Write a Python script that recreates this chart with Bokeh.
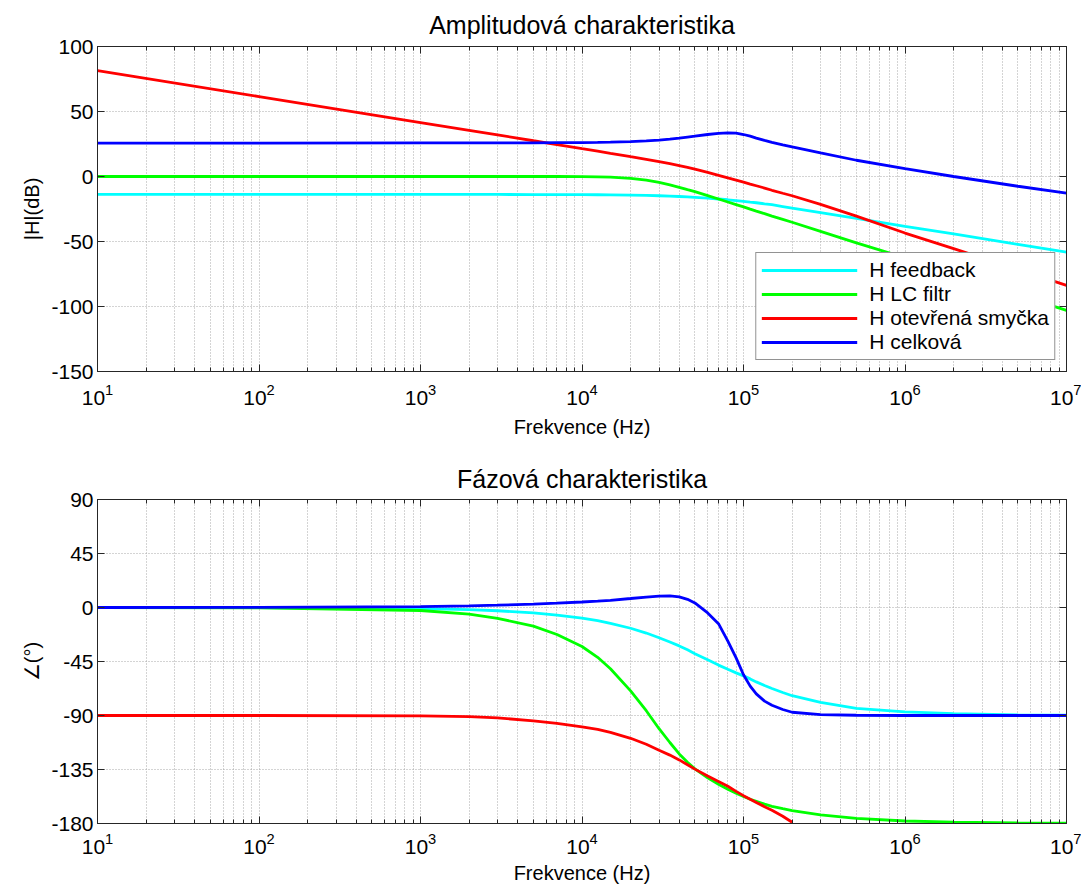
from bokeh.plotting import figure
from bokeh.models import (FixedTicker, LogAxis, LinearAxis, LogTickFormatter,
                          CustomJSTickFormatter, Legend, LegendItem, Range1d)
from bokeh.layouts import column
from bokeh.embed import file_html
from bokeh.resources import INLINE

# ---------------- data ----------------
freq = [10, 100, 1e3, 2e3, 3e3, 5e3, 7e3, 1e4, 1.25e4, 1.5e4,
        2e4, 2.5e4, 3e4, 3.5e4, 4e4, 4.5e4, 5e4, 6e4, 7e4, 8e4,
        9e4, 1e5, 1.1e5, 1.2e5, 1.35e5, 1.5e5, 1.75e5, 2e5, 3e5, 5e5,
        1e6, 2e6, 5e6, 1e7]

# magnitude |H| in dB
mag_feedback = [-13.8, -13.8, -13.8, -13.8, -13.8, -13.9, -13.9, -14.0, -14.05, -14.1,
                -14.3, -14.5, -14.8, -15.1, -15.4, -15.7, -16.0, -16.6, -17.3, -17.9,
                -18.5, -19.1, -19.7, -20.2, -21.0, -21.7, -23.1, -24.3, -27.8, -32.3,
                -38.3, -44.2, -52.2, -58.2]
mag_lc = [0.0, 0.0, 0.0, 0.0, 0.0, 0.0, 0.0, -0.1, -0.25, -0.5,
          -1.4, -2.8, -4.5, -6.4, -8.3, -10.1, -11.7, -14.7, -17.3, -19.6,
          -21.6, -23.4, -25.1, -26.6, -28.6, -30.5, -33.0, -35.2, -42.2, -51.0,
          -62.5, -75.0, -91.0, -103.0]
mag_open = [81.5, 61.5, 41.5, 35.5, 32.0, 27.5, 24.6, 21.5, 19.6, 17.8,
            15.2, 13.2, 11.5, 9.9, 8.4, 7.0, 5.6, 3.2, 0.9, -1.1,
            -2.8, -4.3, -5.8, -7.1, -8.9, -10.6, -12.9, -14.8, -21.4, -30.5,
            -43.5, -55.5, -71.5, -83.8]
mag_total = [25.7, 25.7, 25.8, 25.8, 25.8, 25.9, 26.0, 26.1, 26.2, 26.4,
             26.9, 27.4, 28.0, 28.7, 29.5, 30.3, 31.0, 32.3, 33.1, 33.6,
             33.3, 32.3, 31.0, 29.5, 27.8, 26.3, 24.4, 22.8, 18.1, 12.5,
             6.0, 0.0, -7.5, -12.8]

# phase in degrees
nan = float("nan")
ph_feedback = [0.0, -0.1, -0.9, -1.8, -2.7, -4.5, -6.4, -8.8, -11.0, -13.2,
               -17.3, -21.3, -25.2, -28.7, -32.0, -35.3, -38.5, -43.5, -48.0, -51.5,
               -54.5, -57.0, -59.5, -62.0, -65.0, -67.5, -70.8, -73.5, -79.0, -84.0,
               -87.0, -88.5, -89.4, -89.7]
ph_lc = [0.0, -0.3, -2.5, -5.5, -9.0, -15.5, -22.5, -32.5, -41.5, -51.0,
         -69.5, -86.0, -101.0, -112.5, -122.0, -129.0, -134.5, -142.0, -147.3, -151.5,
         -154.8, -157.5, -159.8, -161.5, -163.8, -165.7, -167.7, -169.3, -172.9, -175.7,
         -177.9, -178.9, -179.6, -179.8]
ph_open = [-90.0, -90.0, -90.3, -91.0, -92.0, -94.4, -96.5, -99.4, -101.5, -104.0,
           -109.0, -114.0, -119.0, -123.0, -127.0, -131.0, -134.7, -140.5, -145.0, -149.0,
           -153.2, -156.8, -159.8, -162.5, -166.0, -169.0, -174.0, -179.0, nan, nan,
           nan, nan, nan, nan]
ph_total = [0.0, 0.1, 0.7, 1.4, 1.9, 2.8, 3.6, 4.6, 5.3, 6.0,
            7.5, 8.7, 9.5, 9.7, 8.8, 6.8, 3.8, -4.5, -13.5, -28.0,
            -42.0, -56.0, -65.5, -72.0, -78.0, -81.5, -85.0, -87.3, -89.2, -89.8,
            -90.0, -90.0, -90.0, -90.0]

labels = ["H feedback", "H LC filtr", "H otevřená smyčka", "H celková"]
colors = ["#00FFFF", "#00FF00", "#FF0000", "#0000FF"]

x_major = [10, 100, 1e3, 1e4, 1e5, 1e6, 1e7]
x_minor = [m * 10 ** k for k in range(1, 7) for m in range(2, 10)]
mag_ticks = [-150, -100, -50, 0, 50, 100]
ph_ticks = [-180, -135, -90, -45, 0, 45, 90]

FONT = "Liberation Sans"
AXIS_COLOR = "#262626"
GRID_COLOR = "#a8a8a8"


def style_axis(ax, show_labels=True):
    ax.axis_line_color = AXIS_COLOR
    ax.major_tick_line_color = AXIS_COLOR
    ax.minor_tick_line_color = AXIS_COLOR
    ax.major_tick_in = 7
    ax.major_tick_out = 0
    ax.minor_tick_in = 4
    ax.minor_tick_out = 0
    ax.major_label_text_font = FONT
    ax.major_label_text_color = "black"
    ax.axis_label_text_font = FONT
    ax.axis_label_text_font_style = "normal"
    ax.axis_label_text_color = "black"
    if show_labels:
        ax.major_label_text_font_size = "21px"
        ax.axis_label_text_font_size = "20px"
    else:
        ax.formatter = CustomJSTickFormatter(code="return '';")
        ax.major_label_text_font_size = "1px"
        ax.major_label_text_alpha = 0
        ax.major_label_standoff = 0
        ax.axis_label_standoff = 0


def make_fig(title, ylabel, yr, yticks, ys, height, mbt, mbb, tstand,
             xl_stand, xa_stand, legend=False):
    p = figure(width=1081, height=height, x_axis_type="log",
               x_range=Range1d(10, 1e7), y_range=Range1d(*yr),
               output_backend="svg", toolbar_location=None,
               min_border_left=97, min_border_right=15,
               min_border_top=mbt, min_border_bottom=mbb,
               background_fill_color="white", border_fill_color="white")
    p.outline_line_color = AXIS_COLOR
    p.title.text = title
    p.title.text_font = FONT
    p.title.text_font_size = "25px"
    p.title.text_font_style = "normal"
    p.title.text_color = "black"
    p.title.align = "center"
    p.title.standoff = tstand

    xt = FixedTicker(ticks=x_major, minor_ticks=x_minor)
    yt = FixedTicker(ticks=yticks, minor_ticks=[])

    xa = p.xaxis[0]
    xa.ticker = xt
    xa.formatter = LogTickFormatter()
    xa.axis_label = "Frekvence (Hz)"
    style_axis(xa)
    xa.major_label_standoff = xl_stand
    xa.axis_label_standoff = xa_stand

    ya = p.yaxis[0]
    ya.ticker = yt
    ya.formatter = CustomJSTickFormatter(code="return tick.toFixed(0);")
    ya.axis_label = ylabel
    style_axis(ya)
    ya.major_label_standoff = 4
    ya.axis_label_standoff = 5
    ya.minor_tick_line_color = None

    top = LogAxis(ticker=FixedTicker(ticks=x_major, minor_ticks=x_minor))
    style_axis(top, show_labels=False)
    p.add_layout(top, "above")
    right = LinearAxis(ticker=FixedTicker(ticks=yticks, minor_ticks=[]))
    style_axis(right, show_labels=False)
    right.minor_tick_line_color = None
    p.add_layout(right, "right")

    p.xgrid.ticker = xt
    p.ygrid.ticker = yt
    for g in (p.xgrid[0], p.ygrid[0]):
        g.grid_line_color = GRID_COLOR
        g.grid_line_dash = "1 2"
        g.grid_line_width = 1
    p.xgrid[0].minor_grid_line_color = GRID_COLOR
    p.xgrid[0].minor_grid_line_dash = "1 2"
    p.xgrid[0].minor_grid_line_width = 1

    rends = []
    for yv, c in zip(ys, colors):
        r = p.line(freq, yv, line_color=c, line_width=2.8)
        rends.append(r)

    if legend:
        items = [LegendItem(label=l, renderers=[r]) for l, r in zip(labels, rends)]
        lg = Legend(items=items, location="bottom_right", margin=11)
        lg.label_text_font = FONT
        lg.label_text_font_size = "21px"
        lg.label_text_color = "black"
        lg.glyph_width = 96
        lg.glyph_height = 22
        lg.label_height = 22
        lg.label_standoff = 12
        lg.spacing = 0
        lg.padding = 5
        lg.border_line_color = AXIS_COLOR
        lg.border_line_width = 1
        lg.background_fill_color = "white"
        lg.background_fill_alpha = 1
        p.add_layout(lg)
    return p


p1 = make_fig("Amplitudová charakteristika", "|H|(dB)", (-150, 100), mag_ticks,
              [mag_feedback, mag_lc, mag_open, mag_total], 448, 46, 77,
              tstand=16, xl_stand=12, xa_stand=8, legend=True)
p2 = make_fig("Fázová charakteristika", "∠(°)", (-180, 90), ph_ticks,
              [ph_feedback, ph_lc, ph_open, ph_total], 440, 51, 65,
              tstand=14, xl_stand=9, xa_stand=5)

layout = column(p1, p2, spacing=0)
open("out.html", "w").write(file_html(layout, INLINE))
